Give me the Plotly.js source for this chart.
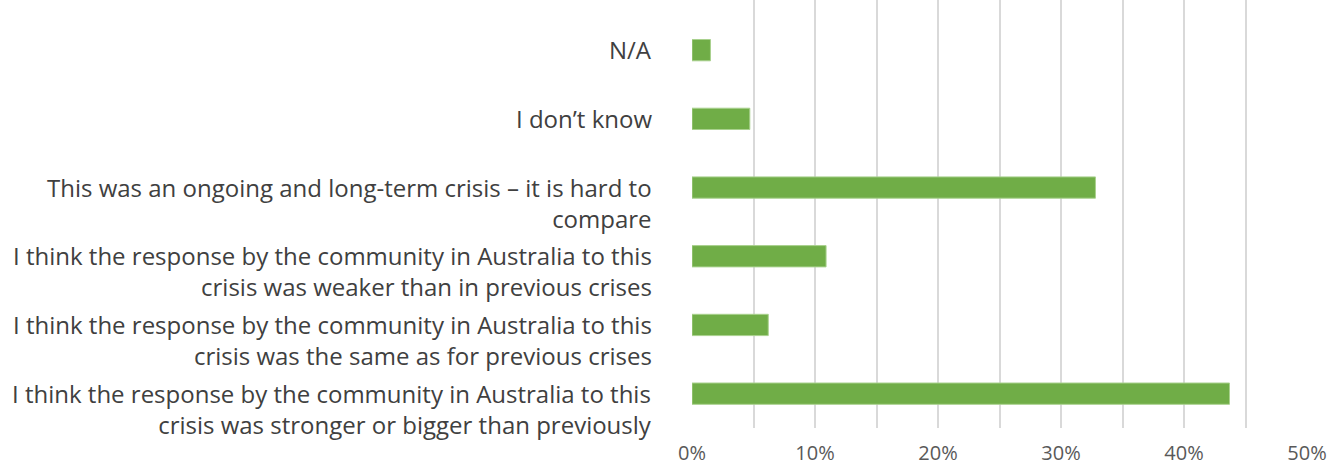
<!DOCTYPE html>
<html><head><meta charset="utf-8">
<script src="https://cdn.plot.ly/plotly-3.0.1.min.js"></script>
<style>html,body{margin:0;padding:0;background:#fff}#chart{width:1336px;height:466px}</style>
</head><body><div id="chart"></div>
<script>
const categories = [
  "I think the response by the community in Australia to this<br>crisis was stronger or bigger than previously",
  "I think the response by the community in Australia to this<br>crisis was the same as for previous crises",
  "I think the response by the community in Australia to this<br>crisis was weaker than in previous crises",
  "This was an ongoing and long-term crisis – it is hard to<br>compare",
  "I don’t know",
  "N/A"
];
const values = [43.7, 6.2, 10.9, 32.8, 4.7, 1.5];
const xTickVals = [0, 10, 20, 30, 40, 50];
const xTickText = ["0%", "10%", "20%", "30%", "40%", "50%"];

const labelFont = {family: "'Open Sans', sans-serif", size: 24, color: "#404040"};
const annotations = categories.map((c, i) => ({
  xref: "paper", yref: "y", x: 0, y: i, xanchor: "right", yanchor: "top",
  xshift: -38, yshift: 19, text: c, align: "right", showarrow: false, font: labelFont
}));

Plotly.newPlot("chart", [{
  type: "bar", orientation: "h", x: values, y: categories.map((c, i) => i),
  marker: {color: "#70AD47", line: {color: "#A9D18E", width: 1}},
  hoverinfo: "skip"
}], {
  width: 1336, height: 466,
  margin: {l: 692, r: 29, t: 0, b: 38, pad: 0},
  paper_bgcolor: "#fff", plot_bgcolor: "#fff",
  bargap: 0.69,
  showlegend: false,
  xaxis: {
    range: [0, 50], tickvals: xTickVals, ticktext: xTickText,
    showgrid: true, gridcolor: "#D9D9D9", gridwidth: 2,
    minor: {dtick: 5, showgrid: true, gridcolor: "#D9D9D9", gridwidth: 2},
    zeroline: false, showline: false, ticks: "",
    ticklabelstandoff: 11,
    tickfont: {family: "'Open Sans', sans-serif", size: 20, color: "#595959"},
    fixedrange: true
  },
  yaxis: {
    range: [-0.5, 5.73], showticklabels: false, showgrid: false, zeroline: false,
    showline: false, ticks: "", fixedrange: true
  },
  annotations: annotations
}, {displayModeBar: false, staticPlot: true});
</script></body></html>
